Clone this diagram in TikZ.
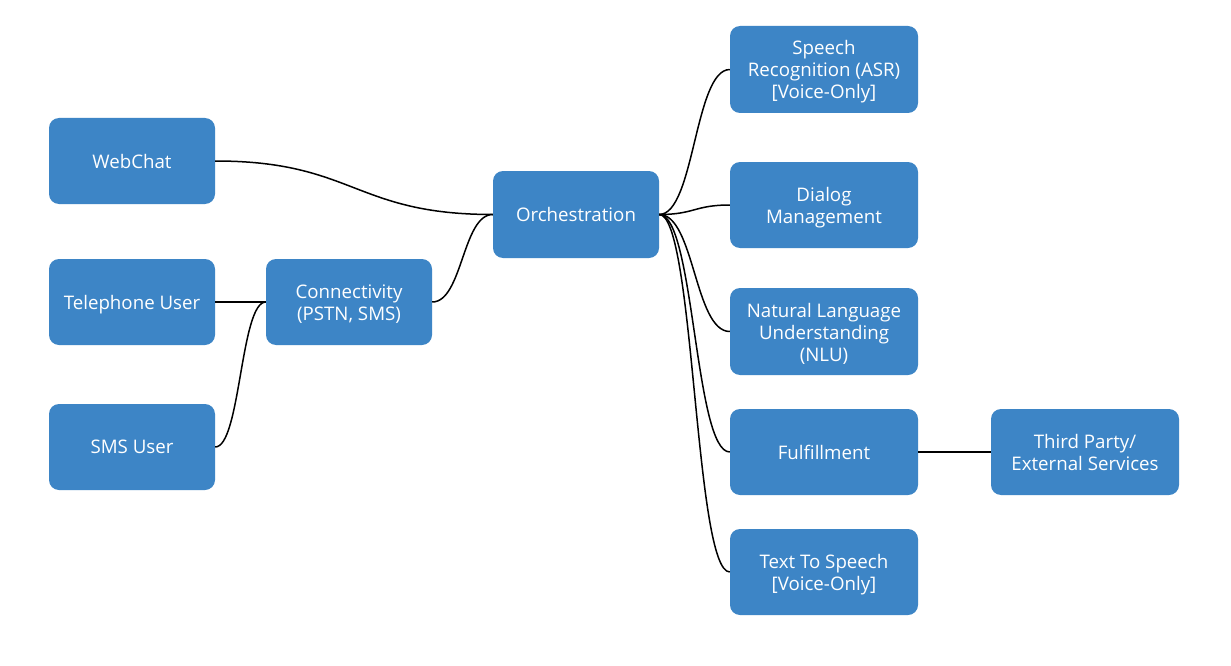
\documentclass[tikz,border=0pt]{standalone}
\usepackage{fontspec}
\setmainfont{Open Sans}
\usetikzlibrary{calc}
\definecolor{boxblue}{RGB}{61,133,198}
\begin{document}
\begin{tikzpicture}[x=1pt,y=-1pt,
  box/.style={fill=boxblue, rounded corners=10pt, inner sep=0pt, anchor=center},
  lbl/.style={text=white, align=center, font=\fontsize{18.7}{22}\selectfont,
    inner sep=0pt, yshift=-2.5pt},
  lblup/.style={lbl, yshift=2.3pt},
  smallbox/.style={box, minimum width=166pt, minimum height=86pt},
  widebox/.style={box, minimum width=188pt, minimum height=87pt},
  link/.style={draw=black, line width=1.5pt},
  curvy/.style={to path={let \p1=(\tikztostart), \p2=(\tikztotarget) in
    .. controls ({(\x1+\x2)/2},\y1) and ({(\x1+\x2)/2},\y2) .. (\tikztotarget)}}]
\useasboundingbox (0,0) rectangle (1231,666);
\fill[white] (0,0) rectangle (1231,666);

\node[smallbox, label={[lblup]center:{WebChat}}] (web) at (132,161) {};
\node[smallbox, label={[lbl]center:{Telephone User}}] (tel) at (132,302) {};
\node[smallbox, label={[lblup]center:{SMS User}}] (sms) at (132,447) {};
\node[smallbox, label={[lbl]center:{Connectivity\\(PSTN, SMS)}}] (conn) at (349,302) {};
\node[smallbox, minimum height=87pt, label={[lblup, yshift=0.7pt]center:{Orchestration}}] (orch) at (576,214.5) {};

\node[widebox, label={[lbl]center:{Speech\\Recognition (ASR)\\{[Voice-Only]}}}] (asr) at (824,69.5) {};
\node[widebox, minimum height=86pt, label={[lbl]center:{Dialog\\Management}}] (dlg) at (824,205) {};
\node[widebox, label={[lbl]center:{Natural Language\\Understanding\\(NLU)}}] (nlu) at (824,331.5) {};
\node[widebox, minimum height=86pt, label={[lblup]center:{Fulfillment}}] (ful) at (824,452) {};
\node[widebox, minimum height=86pt, label={[lbl]center:{Text To Speech\\{[Voice-Only]}}}] (tts) at (824,572) {};
\node[widebox, minimum height=86pt, label={[lblup]center:{Third Party/\\External Services}}] (ext) at (1085,452) {};

\draw[link] (web.east) to[curvy] (orch.west);
\draw[link] (tel.east) -- (conn.west);
\draw[link] (sms.east) to[curvy] (conn.west);
\draw[link] (conn.east) to[curvy] (orch.west);
\draw[link] (orch.east) to[curvy] (asr.west);
\draw[link] (orch.east) to[curvy] (dlg.west);
\draw[link] (orch.east) to[curvy] (nlu.west);
\draw[link] (orch.east) to[curvy] (ful.west);
\draw[link] (orch.east) to[curvy] (tts.west);
\draw[link] (ful.east) -- (ext.west);
\end{tikzpicture}
\end{document}
